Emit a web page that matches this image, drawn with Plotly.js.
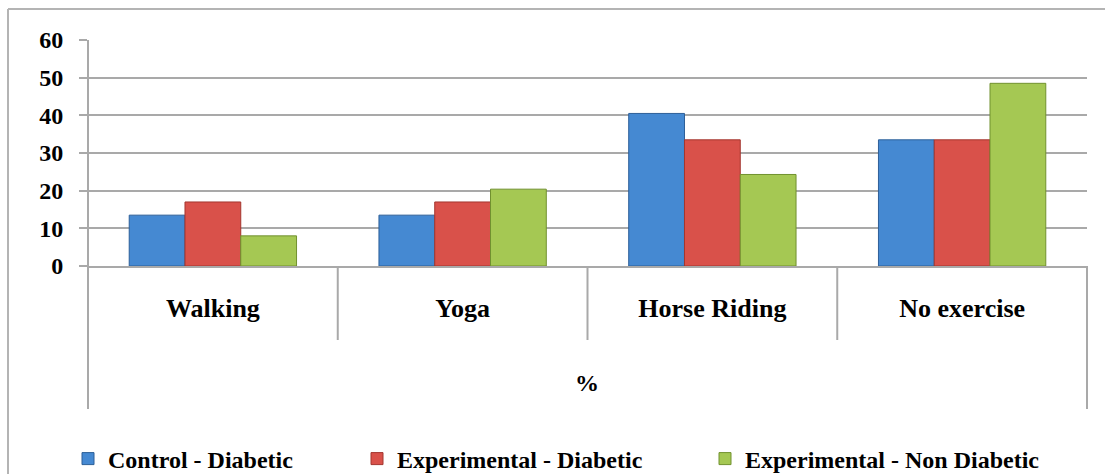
<!DOCTYPE html>
<html>
<head>
<meta charset="utf-8">
<script src="https://cdn.plot.ly/plotly-3.0.1.min.js"></script>
<style>html,body{margin:0;padding:0;background:#fff;overflow:hidden;}#chart{width:1105px;height:474px;}</style>
</head>
<body>
<div id="chart"></div>
<script>
const categories = ["Walking", "Yoga", "Horse Riding", "No exercise"];
const seriesNames = ["Control - Diabetic", "Experimental - Diabetic", "Experimental - Non Diabetic"];
const controlDiabetic = [13.5, 13.5, 40.5, 33.5];
const experimentalDiabetic = [17, 17, 33.5, 33.5];
const experimentalNonDiabetic = [8, 20.4, 24.3, 48.5];
const outerLabel = "%";
const yTicks = [0, 10, 20, 30, 40, 50, 60];

const W = 1105, H = 474;
const L = 88, R = 18, T = 40, B = 208;
const pw = W - L - R, ph = H - T - B;
const px = x => (x - L) / pw;          // pixel -> paper x
const py = y => (H - B - y) / ph;      // pixel -> paper y

const fills = ["#4589d2", "#d9514a", "#a5c853"];
const lines = ["#2d5f98", "#a3362f", "#71912f"];
const values = [controlDiabetic, experimentalDiabetic, experimentalNonDiabetic];
const legends = ["legend", "legend2", "legend3"];

const traces = values.map((v, i) => ({
  type: "bar",
  name: seriesNames[i],
  x: categories,
  y: v,
  marker: {color: fills[i], line: {color: lines[i], width: 1}},
  legend: legends[i],
  hoverinfo: "x+y+name"
}));

const grey = "#a9a9a9";
const serif = "'Liberation Serif', 'Times New Roman', Times, 'DejaVu Serif', serif";
const shapes = [];
// outer chart frame (top and left edges)
shapes.push({type: "line", xref: "paper", yref: "paper", x0: px(8), x1: px(1105), y0: py(9), y1: py(9), line: {color: "#b4b4b4", width: 2}});
shapes.push({type: "line", xref: "paper", yref: "paper", x0: px(8), x1: px(8), y0: py(9), y1: py(474), line: {color: "#b4b4b4", width: 2}});
// long outer verticals of the category axis
shapes.push({type: "line", xref: "paper", yref: "paper", x0: 0, x1: 0, y0: 1, y1: py(409), line: {color: grey, width: 2}});
shapes.push({type: "line", xref: "paper", yref: "paper", x0: 1, x1: 1, y0: 0, y1: py(409), line: {color: grey, width: 2}});
// category dividers
for (let i = 0; i < categories.length - 1; i++) {
  shapes.push({type: "line", xref: "x", yref: "paper", x0: i + 0.5, x1: i + 0.5, y0: 0, y1: py(340), line: {color: grey, width: 2}});
}

const legendBase = {orientation: "h", xanchor: "left", yanchor: "middle", y: py(459),
  font: {family: serif, size: 24, color: "#000", weight: "bold"}, bgcolor: "rgba(0,0,0,0)",
  itemwidth: 30, tracegroupgap: 0};

const layout = {
  width: W, height: H,
  margin: {l: L, r: R, t: T, b: B, autoexpand: false},
  paper_bgcolor: "#fff", plot_bgcolor: "#fff",
  barmode: "group", bargap: 0.33, bargroupgap: 0,
  showlegend: true,
  xaxis: {
    type: "category", showgrid: false, zeroline: false,
    showline: true, linecolor: grey, linewidth: 2,
    ticks: "", ticklabelstandoff: 18, automargin: false,
    tickfont: {family: serif, size: 26, color: "#000", weight: "bold"},
    fixedrange: true
  },
  yaxis: {
    range: [0, 60], tickvals: yTicks, ticktext: yTicks.map(String),
    showgrid: true, gridcolor: grey, gridwidth: 2,
    zeroline: false, showline: false, automargin: false,
    ticks: "outside", ticklen: 8, tickwidth: 2, tickcolor: grey,
    ticklabelstandoff: 11,
    tickfont: {family: serif, size: 24, color: "#000", weight: "bold"},
    fixedrange: true
  },
  legend: Object.assign({}, legendBase, {x: px(68)}),
  legend2: Object.assign({}, legendBase, {x: px(357)}),
  legend3: Object.assign({}, legendBase, {x: px(705)}),
  shapes: shapes,
  annotations: [{
    text: "<b>" + outerLabel + "</b>", xref: "paper", yref: "paper",
    x: px(587), y: py(383), xanchor: "center", yanchor: "middle", showarrow: false,
    font: {family: serif, size: 24, color: "#000"}
  }]
};

Plotly.newPlot("chart", traces, layout, {displayModeBar: false, staticPlot: true});
</script>
</body>
</html>
